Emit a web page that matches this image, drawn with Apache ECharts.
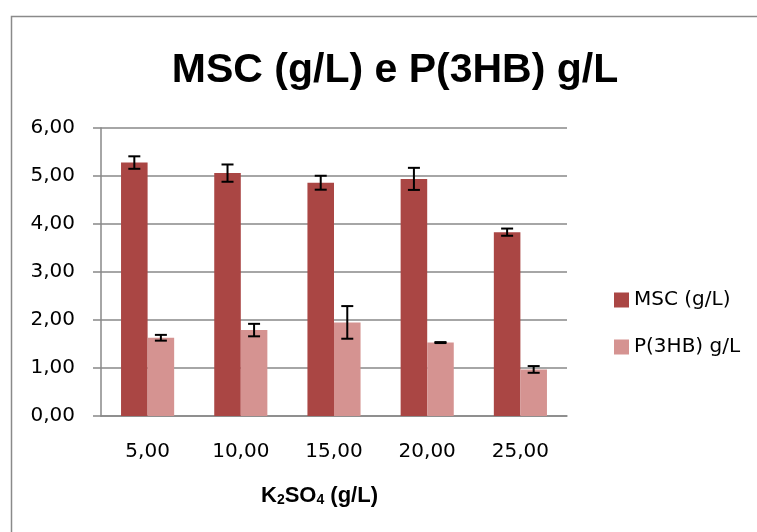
<!DOCTYPE html>
<html>
<head>
<meta charset="utf-8">
<script src="https://cdn.jsdelivr.net/npm/echarts@6/dist/echarts.min.js"></script>
<style>
html,body{margin:0;padding:0;background:#fff;}
#chart{width:757px;height:532px;}
</style>
</head>
<body>
<div id="chart"></div>
<script>
const categories = ['5,00', '10,00', '15,00', '20,00', '25,00'];
const mscValues = [5.28, 5.06, 4.86, 4.94, 3.83];
const mscErrors = [0.13, 0.18, 0.145, 0.23, 0.075];
const phbValues = [1.63, 1.79, 1.95, 1.53, 0.97];
const phbErrors = [0.06, 0.13, 0.34, 0.01, 0.07];
const seriesNames = ['MSC (g/L)', 'P(3HB) g/L'];
const yTicks = { min: 0, max: 6, interval: 1 };

const FONT = 'DejaVu Sans';
const TFONT = 'Liberation Sans';
const BAR_FRAC = 0.285;

function errorSeries(values, errors, side) {
  return {
    type: 'custom',
    z: 10,
    silent: true,
    data: values.map((v, i) => [i, v, errors[i]]),
    renderItem: function (params, api) {
      const idx = api.value(0);
      const v = api.value(1);
      const e = api.value(2);
      const bw = api.size([1, 0])[0];
      const c = api.coord([idx, v]);
      const x = c[0] + side * bw * BAR_FRAC / 2;
      const top = api.coord([idx, v + e])[1];
      const bot = api.coord([idx, v - e])[1];
      const hw = 6;
      const st = { stroke: '#000', lineWidth: 2 };
      return {
        type: 'group',
        children: [
          { type: 'line', shape: { x1: x, y1: top, x2: x, y2: bot }, style: st },
          { type: 'line', shape: { x1: x - hw, y1: top, x2: x + hw, y2: top }, style: st },
          { type: 'line', shape: { x1: x - hw, y1: bot, x2: x + hw, y2: bot }, style: st }
        ]
      };
    }
  };
}

const chart = echarts.init(document.getElementById('chart'), null, { renderer: 'canvas' });
chart.setOption({
  animation: false,
  backgroundColor: '#fff',
  title: {
    text: 'MSC (g/L) e P(3HB) g/L',
    left: 390,
    top: 45,
    textAlign: 'center',
    textStyle: { fontFamily: TFONT, fontWeight: 'bold', fontSize: 41, color: '#000', lineHeight: 41 }
  },
  legend: {
    data: seriesNames,
    orient: 'vertical',
    left: 609,
    top: 285,
    itemWidth: 15,
    itemHeight: 15,
    itemGap: 27,
    icon: 'rect',
    textStyle: { fontFamily: FONT, fontSize: 20, color: '#000' }
  },
  grid: { left: 101, right: 190, top: 128, bottom: 116, containLabel: false },
  xAxis: {
    type: 'category',
    data: categories,
    axisLine: { show: true, lineStyle: { color: '#888', width: 1.5 } },
    axisTick: { show: false },
    axisLabel: { margin: 26, fontFamily: FONT, fontSize: 20, color: '#000' }
  },
  yAxis: {
    type: 'value',
    min: yTicks.min,
    max: yTicks.max,
    interval: yTicks.interval,
    axisLine: { show: true, lineStyle: { color: '#888', width: 1.5 } },
    axisTick: { show: true, length: 8, lineStyle: { color: '#888', width: 1.5 } },
    splitLine: { show: true, lineStyle: { color: '#888', width: 1.5 } },
    axisLabel: {
      margin: 26, fontFamily: FONT, fontSize: 20, color: '#000',
      formatter: v => v.toFixed(2).replace('.', ',')
    }
  },
  graphic: [
    {
      type: 'rect', silent: true, z: -1,
      shape: { x: 11.5, y: 16.5, width: 900, height: 700 },
      style: { fill: 'none', stroke: '#8a8a8a', lineWidth: 1.5 }
    },
    {
      type: 'text', left: 261, top: 485,
      style: {
        text: '{b|K}{s|2}{b|SO}{s|4}{b| (g/L)}',
        rich: {
          b: { fontFamily: TFONT, fontWeight: 'bold', fontSize: 22, color: '#000', verticalAlign: 'bottom', lineHeight: 26 },
          s: { fontFamily: TFONT, fontWeight: 'bold', fontSize: 14, color: '#000', verticalAlign: 'bottom', lineHeight: 12 }
        }
      }
    }
  ],
  series: [
    {
      name: seriesNames[0], type: 'bar', data: mscValues,
      barWidth: (BAR_FRAC * 100) + '%', barGap: '0%',
      itemStyle: { color: '#AA4644' }
    },
    {
      name: seriesNames[1], type: 'bar', data: phbValues,
      barWidth: (BAR_FRAC * 100) + '%', barGap: '0%',
      itemStyle: { color: '#D59391' }
    },
    errorSeries(mscValues, mscErrors, -1),
    errorSeries(phbValues, phbErrors, 1)
  ]
});
</script>
</body>
</html>
